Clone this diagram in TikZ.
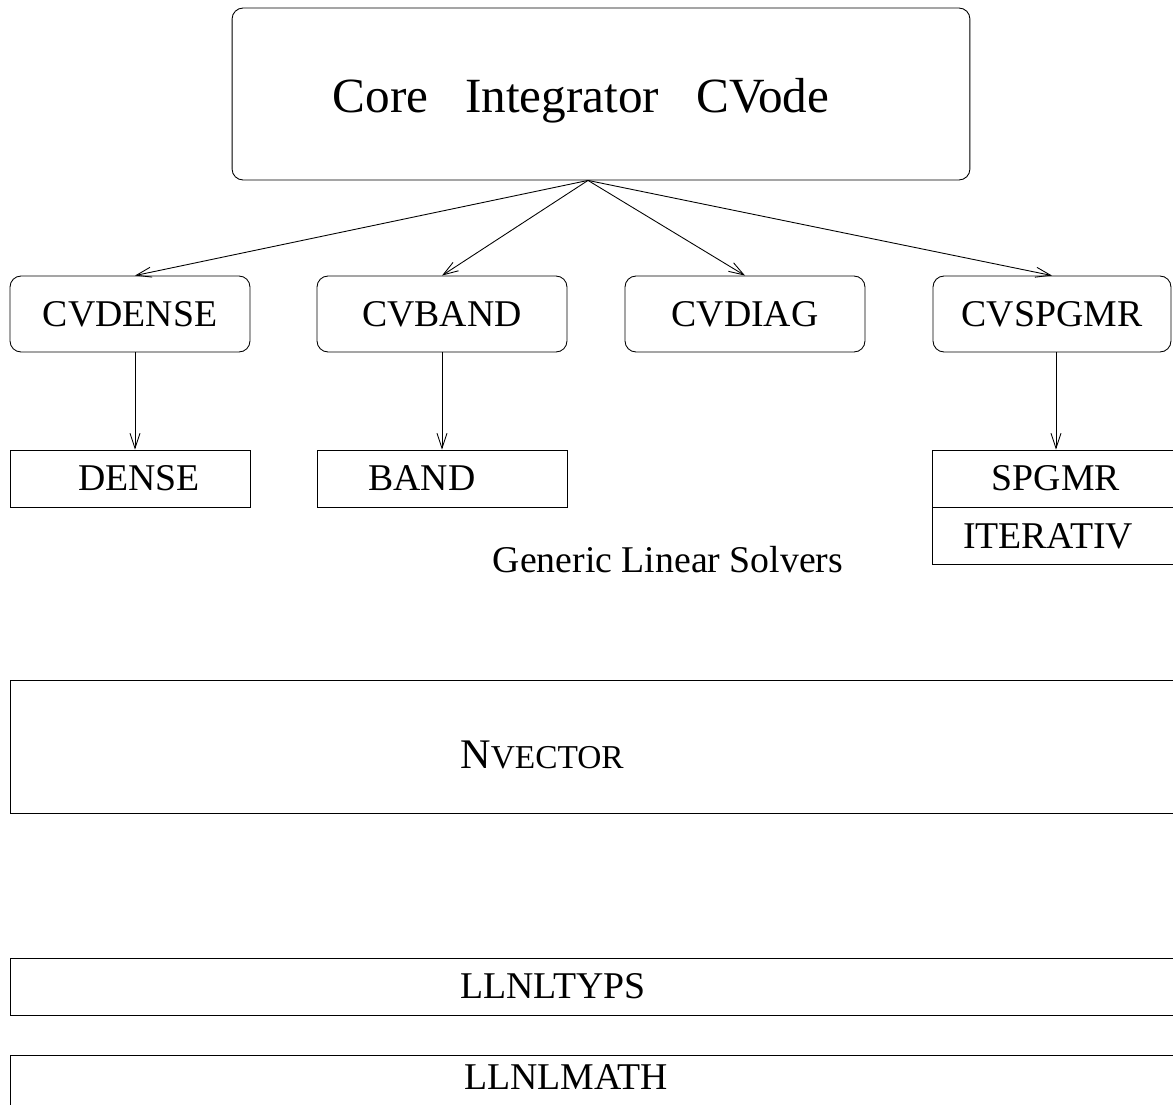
\documentclass[tikz,border=0pt]{standalone}
\usepackage{fontspec}
\setmainfont{Liberation Serif}
\usetikzlibrary{arrows.meta}
\tikzset{
	box/.style={draw, line width=0.5pt, inner sep=0pt, font=\fontsize{21.5}{24}\selectfont},
	rbox/.style={box, rounded corners=0.22cm},
	bar/.style={box, minimum width=23.4cm},
	txt/.style={font=\fontsize{21.5}{24}\selectfont},
	arr/.style={line width=0.5pt, -{Straight Barb[length=0.3cm,width=0.2cm]}},
}

\begin{document}
\begin{tikzpicture}[x=0.02cm, y=-0.02cm]
		%%%%% START %%%%%
		\useasboundingbox (0,0) rectangle (1173,1105);
		
		\node[rbox, minimum width=14.76cm, minimum height=3.44cm,
			label={[name=corelbl, font=\fontsize{28}{30}\selectfont, xshift=-0.4cm, yshift=-0.14cm]center:Core~~~Integrator~~~CVode}] (core) at (601,94) {};
		\coordinate (fan) at ([xshift=-0.26cm]core.south);
		
		\node[rbox, minimum width=4.8cm, minimum height=1.52cm] (cvdense) at (130,314) {CVDENSE};
		\node[rbox, minimum width=5cm, minimum height=1.52cm] (cvband) at (442,314) {CVBAND};
		\node[rbox, minimum width=4.8cm, minimum height=1.52cm] (cvdiag) at (745,314) {CVDIAG};
		\node[rbox, minimum width=4.76cm, minimum height=1.52cm] (cvspgmr) at (1052,314) {CVSPGMR};
		
		\draw[arr] (fan) -- ([xshift=0.1cm]cvdense.north);
		\draw[arr] (fan) -- (cvband.north);
		\draw[arr] (fan) -- (cvdiag.north);
		\draw[arr] (fan) -- (cvspgmr.north);
		
		\node[box, minimum width=4.8cm, minimum height=1.14cm,
			label={[name=denselbl, txt, xshift=0.18cm]center:DENSE}] (dense) at (130,478.5) {};
		\node[box, minimum width=5cm, minimum height=1.14cm,
			label={[name=bandlbl, txt, xshift=-0.4cm]center:BAND}] (band) at (442,478.5) {};
		\node[box, minimum width=4.96cm, minimum height=1.14cm] (spgmr) at (1056,478.5) {SPGMR};
		\node[box, minimum width=4.96cm, minimum height=1.14cm, anchor=north,
			label={[name=iterlbl, txt, xshift=-0.16cm]center:ITERATIV}] (iterativ) at (spgmr.south) {};
		
		\draw[arr] ([xshift=0.1cm]cvdense.south) -- ([xshift=0.1cm]dense.north);
		\draw[arr] (cvband) -- (band);
		\draw[arr] (spgmr.north |- cvspgmr.south) -- (spgmr.north);
		
		\node[txt] (generic) at (668,560) {Generic Linear Solvers};
		
		\node[bar, minimum height=2.66cm,
			label={[name=nveclbl, xshift=-1.06cm, yshift=-0.17cm]center:{\fontsize{24}{26}\selectfont N\fontsize{19}{21}\selectfont VECTOR}}] (nvector) at (595,746.5) {};
		
		\node[bar, minimum height=1.14cm,
			label={[name=typslbl, txt, xshift=-0.84cm]center:LLNLTYPS}] (llnltyps) at (595,986.5) {};
		\node[bar, minimum height=1.14cm,
			label={[name=mathlbl, txt, xshift=-0.58cm, yshift=0.12cm]center:LLNLMATH}] (llnlmath) at (595,1083.5) {};
		
		%%%%% END %%%%%
	\end{tikzpicture}
\end{document}
